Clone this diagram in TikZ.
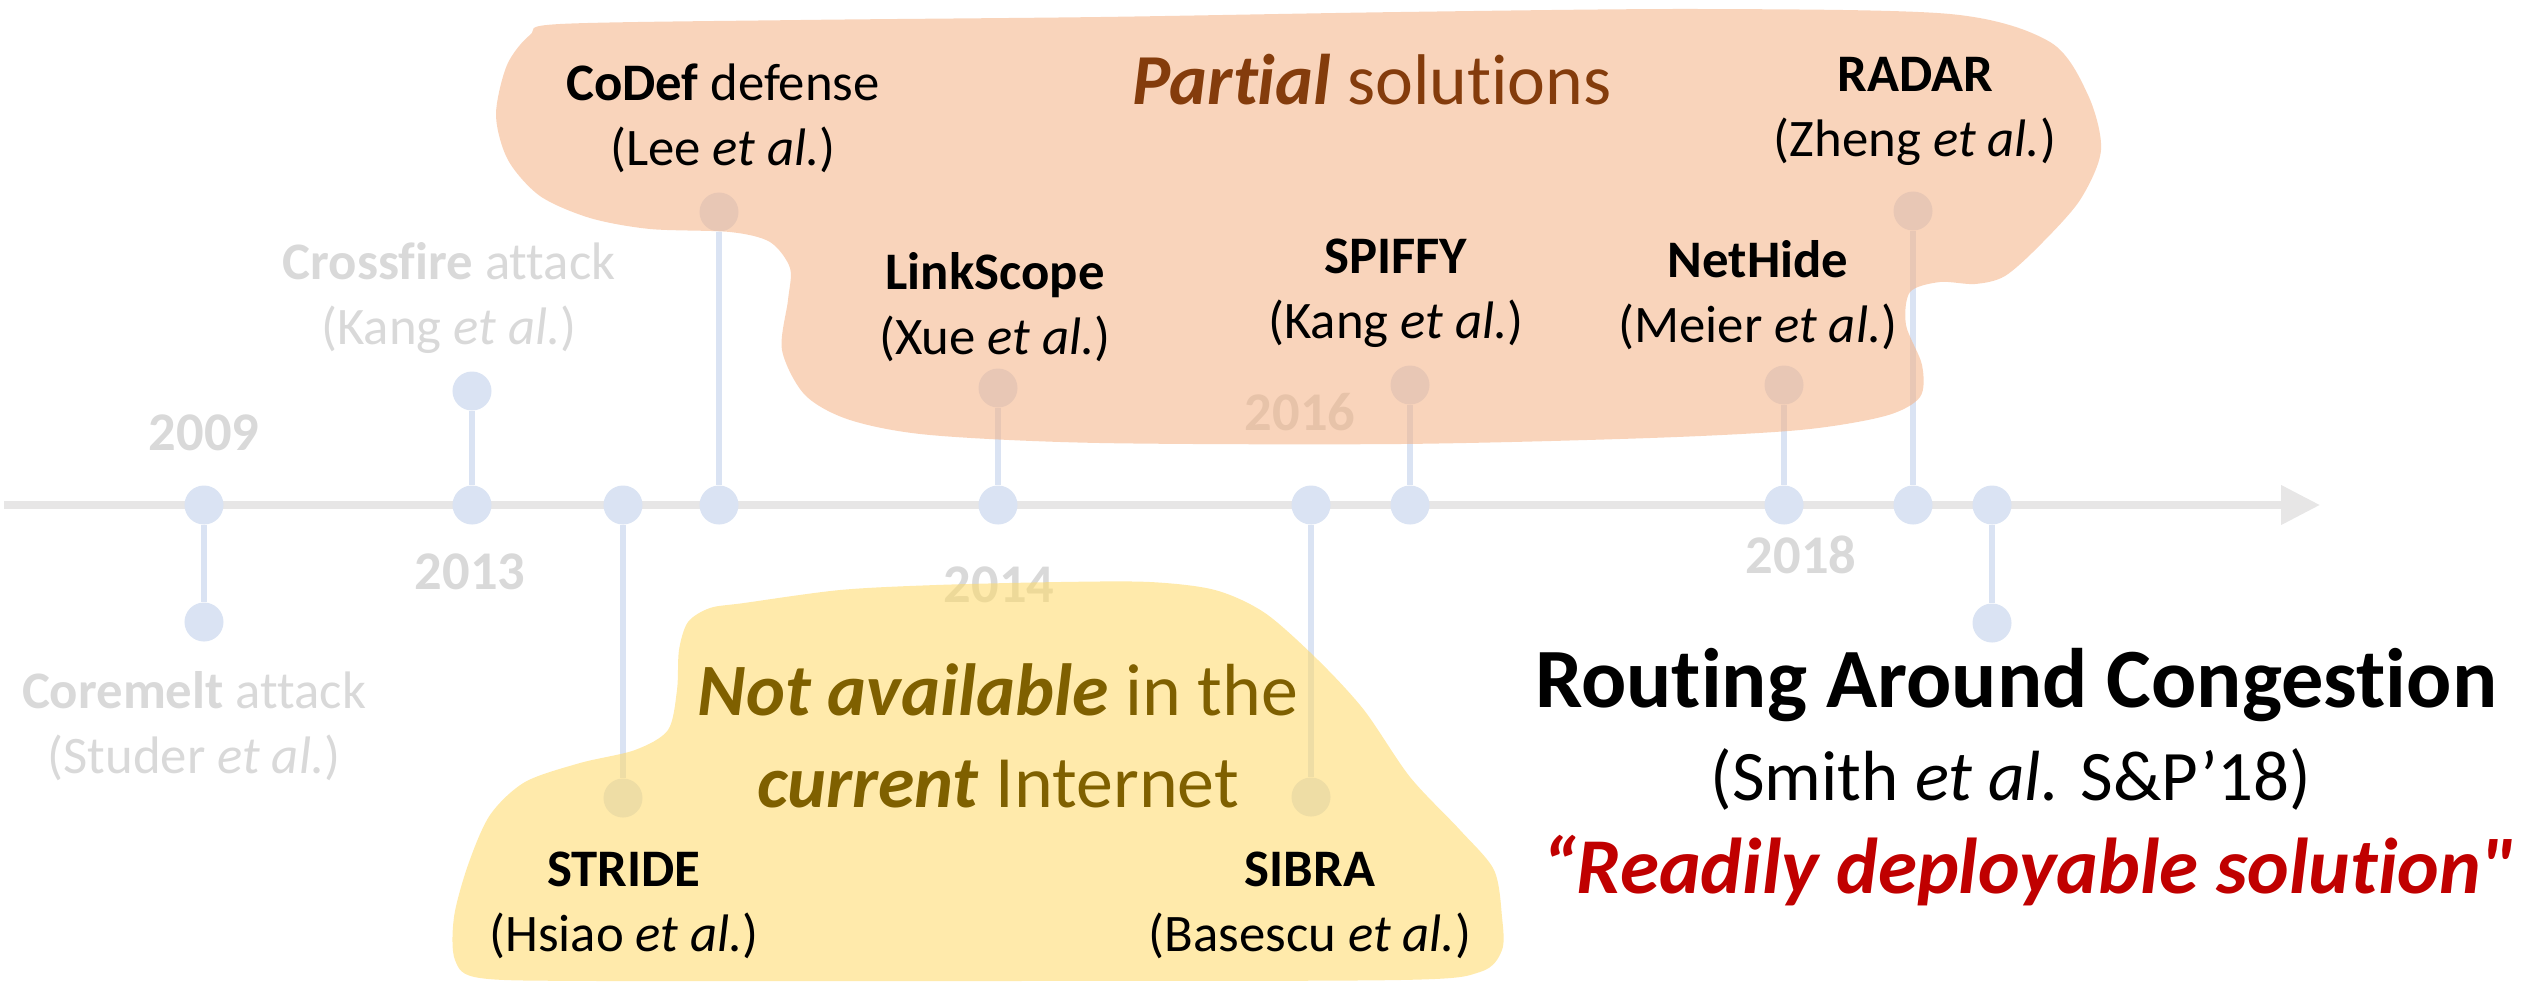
\documentclass[tikz,border=0pt]{standalone}
\usepackage{fontspec}
\setmainfont{Carlito}[Ligatures={TeX,NoCommon}]
\newfontfamily\quotefont{Carlito}[Ligatures={TeXOff,NoCommon}]
\usetikzlibrary{arrows.meta}
\definecolor{axisgray}{HTML}{E7E6E6}
\definecolor{dotblue}{HTML}{DAE3F3}
\definecolor{labgray}{HTML}{D9D9D9}
\definecolor{bloborange}{HTML}{F4B183}
\definecolor{blobyellow}{HTML}{FFD966}
\definecolor{partialc}{HTML}{843C0C}
\definecolor{notavc}{HTML}{7F6000}
\definecolor{quotered}{HTML}{C00000}
\begin{document}
\begin{tikzpicture}[x=0.01cm,y=-0.01cm,
  axisline/.style={draw=axisgray,line width=0.075cm,-{Triangle[length=0.39cm,width=0.38cm]}},
  dot/.style={circle,fill=dotblue,inner sep=0pt,minimum size=0.39cm},
  stem/.style={draw=dotblue,line width=0.06cm},
  lab/.style={align=center,font=\fontsize{15}{18.5}\selectfont,inner sep=0pt},
  graylab/.style={lab,text=labgray},
  yearlab/.style={anchor=base,font=\fontsize{15.5}{18}\selectfont\bfseries,text=labgray,inner sep=0pt},
  blob/.style={fill opacity=0.55,draw=none},
  bigtitle/.style={inner sep=0pt,align=center}]
\useasboundingbox (0,0) rectangle (2524,984);
% axis
\coordinate (axL) at (4,505);
\coordinate (axR) at (2320,505);
\draw[axisline] (axL) -- (axR);
% dots and stems
\foreach \n/\x/\y in {coremelt/204/622, crossfire/472/391, stride/623/798, codef/719/212,
  linkscope/998/388, sibra/1311/797, spiffy/1410/385, nethide/1784/385, radar/1913/211, rac/1992/623}{
  \node[dot] (a\n) at (\x,505) {};
  \node[dot] (e\n) at (\x,\y) {};
  \draw[stem] (a\n) -- (e\n);
}
% gray labels
\node[yearlab] (y2009) at (204,450) {2009};
\node[yearlab] (y2013) at (470,589) {2013};
\node[yearlab] (y2014) at (999,602) {2014};
\node[yearlab] (y2016) at (1300,430) {2016};
\node[yearlab] (y2018) at (1801,573) {2018};
\node[graylab] (lcoremelt) at (194,726) {\textbf{Coremelt} attack\\(Studer \textit{et al.})};
\node[graylab] (lcrossfire) at (449,298) {\textbf{Crossfire} attack\\(Kang \textit{et al.})};
% blobs
\fill[blob,bloborange] plot[smooth cycle] coordinates {
(560,24) (800,20) (1100,17) (1400,12) (1700,9) (1950,14) (2050,42) (2088,95) (2101,150)
(2080,200) (2040,245) (2005,276) (1975,284) (1940,282) (1910,292) (1906,325) (1922,365)
(1920,397) (1885,416) (1800,430) (1650,438) (1400,444) (1100,443) (930,435) (850,420)
(805,395) (782,350) (788,300) (790,268) (770,242) (730,232) (650,229) (590,218) (540,196)
(508,160) (496,115) (507,65) (530,35)};
\fill[blob,blobyellow] plot[smooth cycle] coordinates {
(744,603) (840,590) (936,585) (1060,582) (1150,582) (1215,590) (1265,613) (1318,660)
(1364,710) (1410,777) (1460,830) (1494,870) (1502,917) (1502,950) (1480,972) (1400,980)
(1000,981) (600,981) (480,978) (455,960) (454,917) (468,865) (490,815) (525,782) (580,763)
(635,750) (668,730) (677,690) (679,650) (688,622) (710,608)};
% labels
\node[lab] (lcodef) at (723,118) {\textbf{CoDef} defense\\(Lee \textit{et al.})};
\node[lab] (llinkscope) at (995,307) {\textbf{LinkScope}\\(Xue \textit{et al.})};
\node[lab] (lspiffy) at (1396,293) {\textbf{SPIFFY}\\(Kang \textit{et al.})};
\node[lab] (lnethide) at (1758,295) {\textbf{NetHide}\\(Meier \textit{et al.})};
\node[lab] (lradar) at (1915,111) {\textbf{RADAR}\\(Zheng \textit{et al.})};
\node[lab] (lstride) at (624,905) {\textbf{STRIDE}\\(Hsiao \textit{et al.})};
\node[lab] (lsibra) at (1310,905) {\textbf{SIBRA}\\(Basescu \textit{et al.})};
\node[bigtitle,anchor=base,text=partialc,font=\fontsize{20.4}{26}\selectfont] (partial) at (1372,104) {\textbf{\textit{Partial}} solutions};
\node[bigtitle,text=notavc,font=\fontsize{21}{26.2}\selectfont] (notav) at (998,736) {\textbf{\textit{Not available}} in the\\\textbf{\textit{current}} Internet};
% Routing Around Congestion
\node[anchor=base,inner sep=0pt,font=\fontsize{24}{28}\selectfont\bfseries] (rac) at (2016,707) {Routing Around Congestion};
\node[anchor=base,inner sep=0pt,font=\fontsize{20.2}{24}\selectfont] (smith) at (2011,800) {(Smith \textit{et al.} S\&P’18)};
\node[anchor=base,inner sep=0pt,font=\quotefont\fontsize{22.5}{26}\selectfont\bfseries\itshape,text=quotered] (quote) at (2029,893) {“Readily deployable solution"};
\end{tikzpicture}
\end{document}
